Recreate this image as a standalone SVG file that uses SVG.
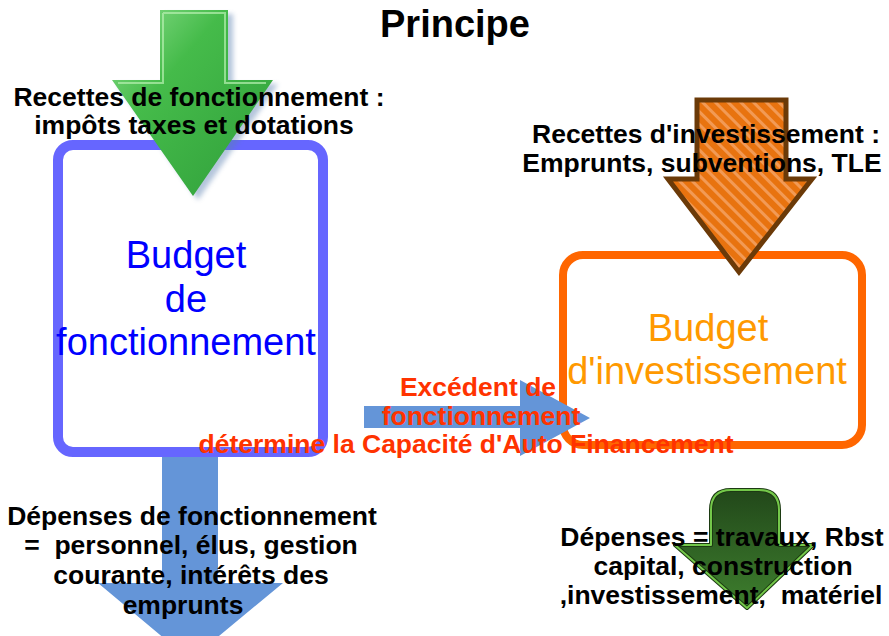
<svg xmlns="http://www.w3.org/2000/svg" width="889" height="636" viewBox="0 0 889 636">
<style>
.lbl{font-family:"Liberation Sans",Arial,sans-serif;font-weight:bold;font-size:26.5px;fill:#000;text-anchor:middle;white-space:pre}
.red{font-family:"Liberation Sans",Arial,sans-serif;font-weight:bold;font-size:26.5px;fill:#ff3300;text-anchor:middle}
.big{font-family:"Liberation Sans",Arial,sans-serif;font-size:38px;text-anchor:middle}
.blue{fill:#6495d8}
</style>
<defs>
<linearGradient id="gGreen" x1="0" y1="0" x2="1" y2="1">
<stop offset="0" stop-color="#8fe08f"/>
<stop offset="0.35" stop-color="#45bb4a"/>
<stop offset="1" stop-color="#2f9e3a"/>
</linearGradient>
<linearGradient id="gDark" x1="0" y1="0" x2="0" y2="1">
<stop offset="0" stop-color="#22481a"/>
<stop offset="1" stop-color="#3e7f2e"/>
</linearGradient>
<pattern id="stripes" width="9" height="9" patternUnits="userSpaceOnUse" patternTransform="rotate(-45)">
<rect width="9" height="9" fill="#e8730f"/>
<rect width="3" height="9" fill="#f29a55"/>
</pattern>
<filter id="blur" x="-20%" y="-20%" width="140%" height="140%">
<feGaussianBlur stdDeviation="2.5"/>
</filter>
</defs>
<rect width="889" height="636" fill="#fff"/>
<g id="title">
<text class="lbl" x="455" y="37" style="font-size:38px">Principe</text>
</g>
<g id="budget-fonctionnement">
<rect x="58" y="145" width="265" height="307" rx="15" fill="#fff" stroke="#6666ff" stroke-width="10"/>
<text class="big" fill="#0000ff" x="186" y="268">Budget</text>
<text class="big" fill="#0000ff" x="186" y="312">de</text>
<text class="big" fill="#0000ff" x="186" y="355">fonctionnement</text>
</g>
<g id="budget-investissement">
<rect x="563" y="255" width="299" height="190" rx="20" fill="#fff" stroke="#ff6600" stroke-width="8"/>
<text class="big" fill="#ff9900" x="708" y="341">Budget</text>
<text class="big" fill="#ff9900" x="707" y="384">d'investissement</text>
</g>
<g id="connectors">
<g id="arrow-recettes-fonct">
<path d="M160,10 H228 V80 H273 L193,196 L112,80 H160 Z" transform="translate(5,4)" fill="#5a7fb0" opacity="0.45" filter="url(#blur)"/>
<path d="M160,10 H228 V80 H273 L193,196 L112,80 H160 Z" fill="url(#gGreen)"/>
<path d="M163,13 H225 V83 H266 M163,13 V83 H118" fill="none" stroke="#b6f0b0" stroke-width="2" opacity="0.7"/>
</g>
<g id="arrow-recettes-invest">
<path d="M697,100 H786 V179 H812 L739,272 L668,179 H697 Z" fill="url(#stripes)" stroke="#6b3a08" stroke-width="5" stroke-linejoin="miter"/>
</g>
<g id="arrow-caf">
<path class="blue" d="M364,406 H520 V380 L590,418 L520,456 V428 H364 Z"/>
</g>
<g id="arrow-depenses-fonct">
<path class="blue" d="M162,457 H218 V583 H283 L190,660 L98,583 H162 Z"/>
</g>
<g id="arrow-depenses-invest">
<path d="M711,510 Q711,490 731,490 H759 Q779,490 779,510 V545 H813 L747,608 L675,545 H711 Z" fill="url(#gDark)" stroke="#1c3a12" stroke-width="4" stroke-linejoin="round"/>
<path d="M711,510 Q711,490 731,490 H759 Q779,490 779,510 V545 H813 L747,608 L675,545 H711 Z" fill="none" stroke="#74c84a" stroke-width="2" stroke-linejoin="round"/>
</g>
</g>
<g id="label-recettes-fonct">
<text class="lbl" x="199" y="106">Recettes de fonctionnement :</text>
<text class="lbl" x="194" y="134">impôts taxes et dotations</text>
</g>
<g id="label-recettes-invest">
<text class="lbl" x="706" y="143">Recettes d'investissement :</text>
<text class="lbl" x="702" y="172">Emprunts, subventions, TLE</text>
</g>
<g id="label-caf">
<text class="red" x="478" y="396">Excédent de</text>
<text class="red" x="481" y="425">fonctionnement</text>
<text class="red" x="466" y="453">détermine la Capacité d'Auto Financement</text>
</g>
<g id="label-depenses-fonct">
<text class="lbl" x="192" y="525">Dépenses de fonctionnement</text>
<text class="lbl" x="191" y="554">=  personnel, élus, gestion</text>
<text class="lbl" x="191" y="584">courante, intérêts des</text>
<text class="lbl" x="183" y="614">emprunts</text>
</g>
<g id="label-depenses-invest">
<text class="lbl" x="722" y="546">Dépenses = travaux, Rbst</text>
<text class="lbl" x="723" y="575">capital, construction</text>
<text class="lbl" x="721" y="604">,investissement,  matériel</text>
</g>
</svg>
